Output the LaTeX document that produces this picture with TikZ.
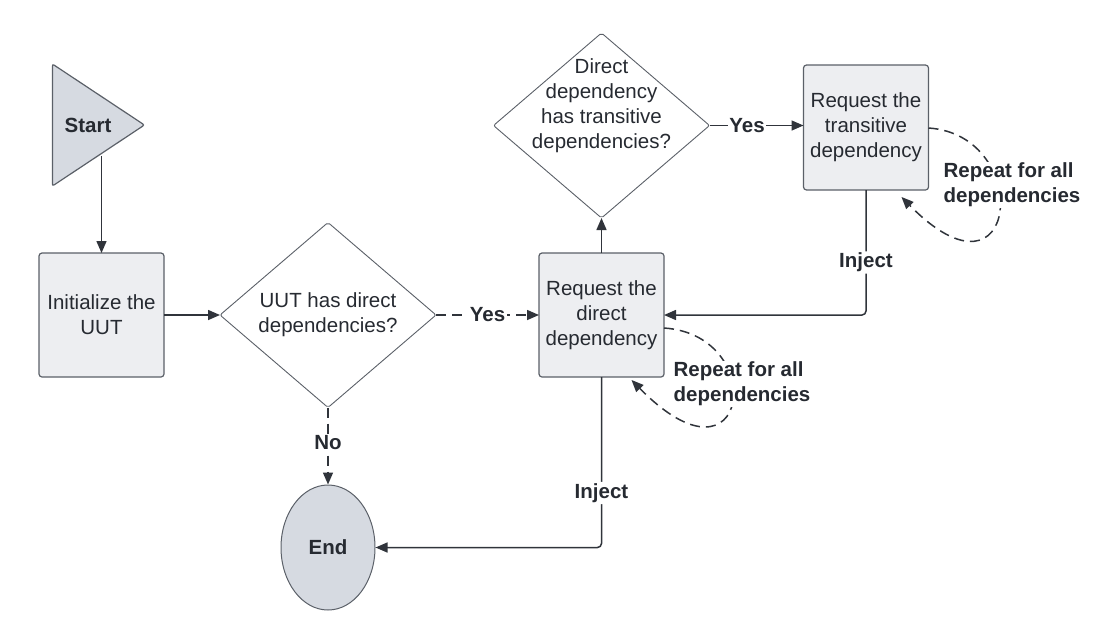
\documentclass[tikz,border=0pt]{standalone}
\usepackage{fontspec}
\setmainfont{Liberation Sans}
\usetikzlibrary{shapes.geometric,arrows.meta,positioning,calc}

\definecolor{ink}{HTML}{262A31}
\definecolor{edge}{HTML}{30343B}
\definecolor{rim}{HTML}{5B6068}
\definecolor{boxfill}{HTML}{EDEEF1}
\definecolor{termfill}{HTML}{D6DAE1}

\tikzset{
  every node/.style={font=\fontsize{20.5pt}{25pt}\selectfont, text=ink},
  process/.style={draw=rim, fill=boxfill, line width=1.2pt, rounded corners=3pt,
    minimum width=125pt, minimum height=124pt, align=center, inner sep=0pt, outer sep=0pt},
  decision/.style={diamond, draw=rim, line width=0.9pt, rounded corners=2pt, aspect=1.17,
    minimum width=216pt, minimum height=185pt, inner sep=0pt, outer sep=0pt},
  dtext/.style={align=center},
  begin/.style={isosceles triangle, isosceles triangle stretches, draw=rim, fill=termfill,
    line width=1.2pt, rounded corners=2pt, minimum width=122pt, minimum height=92pt, inner sep=0pt},
  finish/.style={ellipse, draw=rim, fill=termfill, line width=1pt,
    minimum width=94pt, minimum height=125pt, inner sep=0pt},
  flow/.style={draw=edge, line width=1.5pt, -{Triangle[length=12pt,width=10pt]}},
  optional/.style={dash pattern=on 10pt off 6pt},
  tag/.style={font=\fontsize{20.5pt}{25pt}\selectfont\bfseries, fill=white, inner sep=1.5pt},
  note/.style={font=\fontsize{20.5pt}{25pt}\selectfont\bfseries, fill=white, align=left, inner sep=1pt},
  loopback/.style={flow, optional}
}

\begin{document}
\begin{tikzpicture}[x=1pt, y=-1pt]
\useasboundingbox (0,0) rectangle (1110,641);

%Declare nodes.
\node[begin, anchor=apex] (start) at (146,125) {\textbf{Start}};
\node[process] (init) at (101.5,315) {Initialize the\\UUT};
\node[decision, right=56pt of init, label={[dtext]center:UUT has direct\\dependencies?}] (uut) {};
\node[process, right=103pt of uut] (direct) {Request the\\direct\\dependency};
\node[decision, above=35pt of direct, label={[dtext, yshift=20pt]center:Direct\\dependency\\has transitive\\dependencies?}] (hastrans) {};
\node[process, right=94pt of hastrans, yshift=-2pt, minimum height=125pt] (trans) {Request the\\transitive\\dependency};
\node[finish, below=77pt of uut] (stop) {\textbf{End}};

%Setup edges.
\draw[flow] (init.north |- start.right side) -- (init.north);
\draw[flow] (init) -- (uut);
\draw[flow, optional] (uut) -- node[tag] {Yes} (direct);
\draw[flow] (direct) -- (hastrans);
\draw[flow] (hastrans.east) -- node[tag, pos=0.4] {Yes} (hastrans.east -| trans.west);
\draw[flow, rounded corners=4pt] (trans.south) |- node[tag, pos=0.29] {Inject} (direct.east);
\draw[flow, rounded corners=4pt] (direct.south) |- node[tag, pos=0.34] {Inject} (stop.east);
\draw[flow, optional] (uut.south) -- node[tag, pos=0.45] {No} (stop.north);

%Repeat loops.
\draw[loopback] ($(direct.east)+(0,13)$) .. controls +(106,7) and +(118,120) .. ($(direct.south)+(30,3)$);
\node[note] (repeatdirect) at (742,384) {Repeat for all\\dependencies};
\draw[loopback] ($(trans.east)+(0,0.5)$) .. controls +(106,7) and +(118,120) .. ($(trans.south)+(35.5,7)$);
\node[note] (repeattrans) at (1012,185) {Repeat for all\\dependencies};

\end{tikzpicture}
\end{document}
